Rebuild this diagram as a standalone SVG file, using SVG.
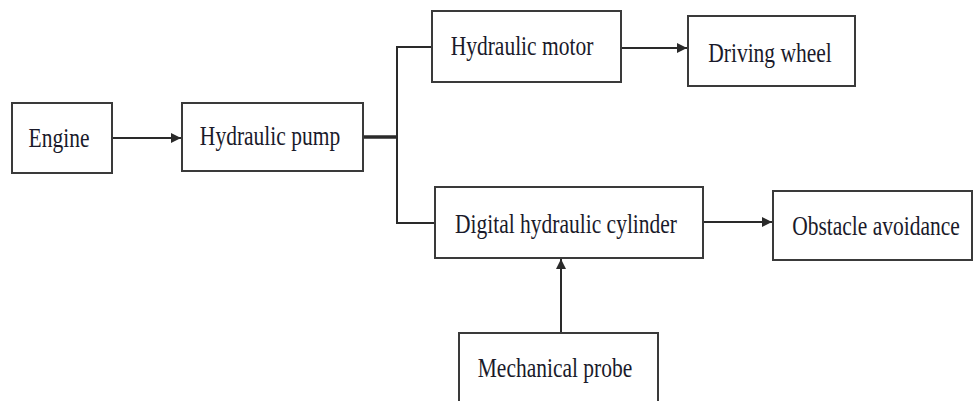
<svg xmlns="http://www.w3.org/2000/svg" width="974" height="401" viewBox="0 0 974 401">
<defs>
<style>
.box{fill:#fff;stroke:#3a3a3a;stroke-width:2}
.lbl{font-family:"Liberation Serif","Times New Roman",serif;font-size:21.5px;fill:#1a1a2a;text-anchor:middle}
.wire{fill:none;stroke:#2a2a2a;stroke-width:2}
</style>
<marker id="arr" viewBox="0 0 10 10" refX="10" refY="5" markerWidth="5" markerHeight="5" orient="auto" markerUnits="strokeWidth">
<path d="M0,0 L10,5 L0,10 z" fill="#2a2a2a"/>
</marker>
</defs>
<rect width="974" height="401" fill="#fff"/>
<g id="connectors">
<line class="wire" x1="112" y1="138" x2="181" y2="138" marker-end="url(#arr)"/>
<line class="wire" x1="363" y1="137" x2="397" y2="137" style="stroke-width:3.5"/>
<polyline class="wire" points="432,47 397,47 397,223 435,223"/>
<line class="wire" x1="621" y1="48" x2="687" y2="48" marker-end="url(#arr)"/>
<line class="wire" x1="703" y1="222" x2="772" y2="222" marker-end="url(#arr)"/>
<line class="wire" x1="561" y1="333" x2="561" y2="259" marker-end="url(#arr)"/>
</g>
<g id="engine">
<rect class="box" x="12" y="103" width="100" height="70"/>
<text class="lbl" transform="translate(59,147) scale(1,1.27)">Engine</text>
</g>
<g id="hydraulic-pump">
<rect class="box" x="182" y="103" width="181" height="68"/>
<text class="lbl" transform="translate(270,145) scale(1,1.27)">Hydraulic pump</text>
</g>
<g id="hydraulic-motor">
<rect class="box" x="432" y="11" width="189" height="71"/>
<text class="lbl" transform="translate(522,55) scale(1,1.27)">Hydraulic motor</text>
</g>
<g id="driving-wheel">
<rect class="box" x="688" y="16" width="167" height="70"/>
<text class="lbl" transform="translate(770,62) scale(1,1.27)">Driving wheel</text>
</g>
<g id="digital-hydraulic-cylinder">
<rect class="box" x="435" y="187" width="268" height="71"/>
<text class="lbl" transform="translate(566,233) scale(1,1.27)">Digital hydraulic cylinder</text>
</g>
<g id="obstacle-avoidance">
<rect class="box" x="773" y="191" width="199" height="69"/>
<text class="lbl" transform="translate(876,235) scale(1,1.27)">Obstacle avoidance</text>
</g>
<g id="mechanical-probe">
<rect class="box" x="459" y="333" width="199" height="80"/>
<text class="lbl" transform="translate(555,377) scale(1,1.27)">Mechanical probe</text>
</g>
</svg>
